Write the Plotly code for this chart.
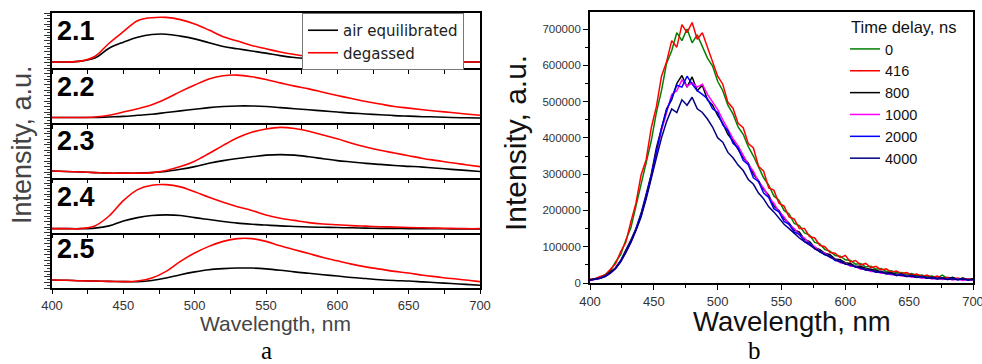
import plotly.graph_objects as go

W, H = 982, 364

# ---------------- data: panel a (normalised intensity per sub-panel) -------------
wl_a = list(range(400, 701, 10))
sample_labels = ["2.1", "2.2", "2.3", "2.4", "2.5"]

air_21 = [.11, .11, .125, .18, .36, .47, .56, .61, .615, .58, .53, .46, .39, .35, .31, .27,
          .225, .19, .17, .155, .145, .14, .135, .13, .125, .12, .12, .115, .115, .11, .11]
deg_21 = [.11, .11, .125, .21, .45, .66, .86, .915, .92, .88, .80, .69, .57, .49, .41, .35,
          .29, .245, .21, .19, .17, .16, .15, .14, .135, .13, .125, .12, .115, .11, .11]
air_22 = [.10, .10, .10, .10, .11, .12, .14, .16, .19, .22, .25, .28, .30, .31, .31, .30,
          .28, .26, .24, .22, .20, .18, .165, .15, .135, .125, .115, .11, .10, .095, .09]
deg_22 = [.10, .10, .10, .11, .14, .20, .26, .33, .44, .57, .69, .80, .86, .87, .84, .79,
          .73, .67, .62, .56, .50, .445, .39, .345, .30, .27, .24, .215, .19, .165, .14]
air_23 = [.12, .11, .10, .09, .08, .08, .08, .09, .11, .15, .20, .26, .31, .35, .38, .41,
          .42, .41, .38, .345, .31, .285, .26, .24, .22, .205, .19, .17, .15, .13, .11]
deg_23 = [.12, .11, .10, .09, .08, .08, .08, .09, .13, .20, .30, .44, .59, .73, .83, .89,
          .92, .90, .85, .78, .71, .63, .56, .50, .45, .40, .35, .31, .27, .235, .20]
air_24 = [.07, .07, .07, .08, .12, .21, .27, .31, .32, .31, .27, .235, .20, .17, .15, .135,
          .12, .11, .10, .095, .09, .085, .08, .075, .075, .07, .07, .07, .065, .065, .065]
deg_24 = [.07, .07, .07, .12, .30, .58, .78, .86, .87, .83, .74, .64, .55, .47, .40, .32,
          .26, .22, .18, .155, .14, .125, .115, .105, .10, .09, .085, .08, .075, .07, .07]
air_25 = [.145, .14, .13, .125, .12, .115, .115, .135, .18, .24, .29, .33, .35, .36, .36, .345,
          .32, .29, .265, .24, .215, .19, .17, .15, .135, .125, .11, .095, .08, .065, .05]
deg_25 = [.145, .14, .13, .125, .12, .115, .125, .18, .30, .48, .63, .75, .84, .89, .89, .84,
          .76, .69, .62, .55, .49, .43, .38, .34, .30, .27, .23, .20, .17, .145, .115]

air_sets = [air_21, air_22, air_23, air_24, air_25]
deg_sets = [deg_21, deg_22, deg_23, deg_24, deg_25]

# ---------------- data: panel b (intensity in thousands) --------------------------
wl_b = list(range(400, 701, 4))
delays = ["0", "416", "800", "1000", "2000", "4000"]
colors_b = ["#008000", "#FF0000", "#000000", "#FF00FF", "#0000FF", "#000080"]

i_0 = [9, 13, 15, 24, 34, 58, 78, 118, 152, 212,
       270, 332, 392, 470, 530, 606, 640, 690, 668, 700,
       662, 684, 650, 620, 598, 556, 530, 490, 466, 430,
       410, 376, 350, 318, 290, 270, 240, 228, 200, 190,
       164, 158, 138, 132, 112, 108, 92, 88, 76, 74,
       64, 62, 52, 54, 44, 46, 38, 40, 32, 34,
       28, 29, 24, 26, 20, 22, 17, 19, 14, 22,
       12, 14, 10, 13, 9, 11]
i_416 = [11, 12, 18, 22, 38, 53, 86, 112, 168, 220,
         298, 340, 428, 486, 570, 610, 668, 650, 712, 690,
         718, 672, 690, 648, 612, 570, 548, 498, 482, 440,
         428, 384, 372, 322, 308, 262, 256, 220, 212, 182,
         176, 150, 150, 128, 124, 104, 100, 84, 82, 70,
         76, 58, 62, 50, 54, 42, 46, 36, 39, 30,
         33, 26, 29, 22, 25, 18, 22, 15, 19, 13,
         16, 11, 14, 10, 12, 9]
i_800 = [8, 10, 14, 20, 30, 42, 62, 88, 118, 150,
         192, 245, 300, 372, 430, 480, 505, 550, 572, 540,
         568, 530, 545, 505, 490, 462, 440, 410, 392, 370,
         345, 330, 300, 282, 258, 242, 212, 200, 178, 165,
         146, 140, 120, 114, 98, 92, 82, 78, 66, 64,
         56, 54, 46, 46, 40, 38, 34, 32, 28, 28,
         24, 24, 20, 21, 18, 18, 15, 16, 13, 14,
         12, 16, 10, 14, 9, 12]
i_1000 = [7, 9, 13, 19, 28, 40, 58, 84, 112, 146,
          185, 236, 292, 358, 420, 470, 520, 530, 560, 542,
          552, 540, 548, 520, 500, 478, 450, 425, 398, 378,
          352, 326, 308, 278, 262, 236, 220, 196, 182, 160,
          150, 132, 124, 108, 100, 86, 82, 70, 66, 56,
          54, 46, 46, 38, 38, 32, 32, 27, 27, 23,
          23, 19, 20, 16, 17, 13, 15, 11, 13, 10,
          12, 8, 11, 7, 10, 8]
i_2000 = [8, 10, 13, 18, 27, 40, 60, 86, 114, 148,
          188, 240, 296, 362, 426, 476, 510, 545, 540, 570,
          548, 530, 520, 508, 480, 470, 436, 420, 385, 372,
          338, 326, 290, 280, 248, 236, 205, 196, 170, 162,
          140, 134, 114, 110, 94, 88, 78, 74, 62, 60,
          52, 50, 44, 42, 36, 36, 30, 31, 25, 27,
          21, 24, 18, 20, 16, 18, 13, 15, 12, 14,
          10, 13, 9, 12, 8, 10]
i_4000 = [8, 10, 13, 19, 28, 40, 58, 84, 112, 145,
          182, 232, 285, 345, 400, 445, 480, 470, 505, 490,
          512, 480, 470, 452, 430, 400, 388, 360, 345, 325,
          310, 285, 272, 248, 232, 210, 196, 178, 162, 150,
          136, 124, 114, 104, 94, 86, 78, 72, 64, 60,
          52, 50, 44, 42, 36, 36, 30, 30, 26, 26,
          21, 22, 18, 19, 15, 17, 13, 14, 11, 13,
          10, 12, 9, 11, 8, 10]
series_b = [i_0, i_416, i_800, i_1000, i_2000, i_4000]

# ---------------- figure --------------------------------------------------------
fig = go.Figure()
FONT = "Liberation Sans, Arial, sans-serif"

tops = [13, 68, 123, 177.5, 232.5]
bots = [68, 123, 177.5, 232.5, 288]
layout = {}
for i in range(5):
    sx = "" if i == 0 else str(i + 1)
    fig.add_trace(go.Scatter(x=wl_a, y=air_sets[i], mode="lines", line=dict(color="black", width=1.6, shape="spline"),
                             name="air equilibrated", showlegend=(i == 0), legend="legend",
                             xaxis="x" + sx, yaxis="y" + sx))
    fig.add_trace(go.Scatter(x=wl_a, y=deg_sets[i], mode="lines", line=dict(color="#FF0000", width=1.6, shape="spline"),
                             name="degassed", showlegend=(i == 0), legend="legend",
                             xaxis="x" + sx, yaxis="y" + sx))
    layout["xaxis" + sx] = dict(domain=[52 / W, 480 / W], range=[400, 700], anchor="y" + sx,
                                showline=True, linecolor="black", linewidth=1.6, mirror=(i == 0),
                                ticks="outside", ticklen=4, tickcolor="black", tickwidth=1,
                                tick0=400, dtick=50, ticklabelstandoff=1,
                                ticklabeloverflow="allow",
                                minor=dict(dtick=25, ticks="outside", ticklen=4, tickcolor="black"),
                                showgrid=False, zeroline=False, showticklabels=(i == 4),
                                automargin=False,
                                tickfont=dict(size=13, color="#333", family=FONT))
    layout["yaxis" + sx] = dict(domain=[1 - bots[i] / H, 1 - tops[i] / H], range=[0, 1], anchor="x" + sx,
                                showline=True, linecolor="black", linewidth=1.8, mirror=True,
                                ticks="outside", ticklen=6, tickcolor="#333", tickwidth=1,
                                tick0=0, dtick=0.1,
                                minor=dict(dtick=0.05, ticks="outside", ticklen=3, tickcolor="#333"),
                                showgrid=False, zeroline=False, showticklabels=False,
                                automargin=False)

for name, col, vals in zip(delays, colors_b, series_b):
    fig.add_trace(go.Scatter(x=wl_b, y=[v * 1000 for v in vals], mode="lines", name=name,
                             line=dict(color=col, width=1.5), legend="legend2",
                             xaxis="x6", yaxis="y6"))

layout["xaxis6"] = dict(domain=[590 / W, 973 / W], range=[400, 700], anchor="y6",
                        showline=True, linecolor="black", linewidth=1.8, mirror=True,
                        ticks="outside", ticklen=5, tickcolor="black", tick0=400, dtick=50,
                        ticklabeloverflow="allow",
                        minor=dict(dtick=25, ticks="outside", ticklen=3, tickcolor="black"),
                        showgrid=False, zeroline=False, automargin=False,
                        tickfont=dict(size=13, color="#333", family=FONT))
layout["yaxis6"] = dict(domain=[1 - 283 / H, 1 - 12 / H], range=[0, 747000], anchor="x6",
                        showline=True, linecolor="black", linewidth=1.8, mirror=True,
                        ticks="outside", ticklen=5, tickcolor="black", tick0=0, dtick=100000,
                        tickformat="d", automargin=False,
                        minor=dict(dtick=50000, ticks="outside", ticklen=3, tickcolor="black"),
                        showgrid=False, zeroline=False,
                        tickfont=dict(size=11.5, color="#333", family=FONT))

ann = []
label_centers = [31, 87, 141, 197, 249]
for lab, cy in zip(sample_labels, label_centers):
    ann.append(dict(text="<b>" + lab + "</b>", x=55 / W, y=1 - cy / H, xref="paper", yref="paper",
                    xanchor="left", yanchor="middle", showarrow=False,
                    font=dict(size=27, color="black", family=FONT)))
ann += [
    dict(text="Intensity, a.u.", x=22 / W, y=1 - 145 / H, textangle=-90, showarrow=False,
         xref="paper", yref="paper", xanchor="center", yanchor="middle",
         font=dict(size=27, color="#444", family=FONT)),
    dict(text="Wavelength, nm", x=275 / W, y=1 - 323 / H, showarrow=False,
         xref="paper", yref="paper", xanchor="center", yanchor="middle",
         font=dict(size=21, color="#444", family=FONT)),
    dict(text="Intensity, a.u.", x=516 / W, y=1 - 143 / H, textangle=-90, showarrow=False,
         xref="paper", yref="paper", xanchor="center", yanchor="middle",
         font=dict(size=30, color="#111", family=FONT)),
    dict(text="Wavelength, nm", x=792 / W, y=1 - 321.5 / H, showarrow=False,
         xref="paper", yref="paper", xanchor="center", yanchor="middle",
         font=dict(size=27.5, color="#111", family=FONT)),
    dict(text="Time delay, ns", x=849 / W, y=1 - 27 / H, showarrow=False,
         xref="paper", yref="paper", xanchor="left", yanchor="middle",
         font=dict(size=16.5, color="#111", family=FONT)),
    dict(text="a", x=266 / W, y=1 - 350 / H, showarrow=False,
         xref="paper", yref="paper", xanchor="center", yanchor="middle",
         font=dict(size=25, color="black", family="Liberation Serif, Times New Roman, serif")),
    dict(text="b", x=754 / W, y=1 - 350.5 / H, showarrow=False,
         xref="paper", yref="paper", xanchor="center", yanchor="middle",
         font=dict(size=25, color="black", family="Liberation Serif, Times New Roman, serif")),
]

fig.update_layout(
    **layout,
    template="none",
    width=W, height=H, margin=dict(l=0, r=0, t=0, b=0, autoexpand=False),
    paper_bgcolor="white", plot_bgcolor="rgba(0,0,0,0)",
    font=dict(family=FONT, color="#222"),
    annotations=ann,
    legend=dict(x=302 / W, y=1 - 13 / H, xanchor="left", yanchor="top",
                bgcolor="white", bordercolor="#777", borderwidth=1,
                font=dict(size=15, color="#222", family="DejaVu Sans, Verdana, sans-serif"),
                tracegroupgap=0),
    legend2=dict(x=845 / W, y=1 - 33 / H, xanchor="left", yanchor="top",
                 bgcolor="rgba(0,0,0,0)", borderwidth=0,
                 font=dict(size=14.5, color="#111", family=FONT), tracegroupgap=0),
)

fig.write_html("out.html", config={"displayModeBar": False},
               post_script="document.body.style.margin='0';")
